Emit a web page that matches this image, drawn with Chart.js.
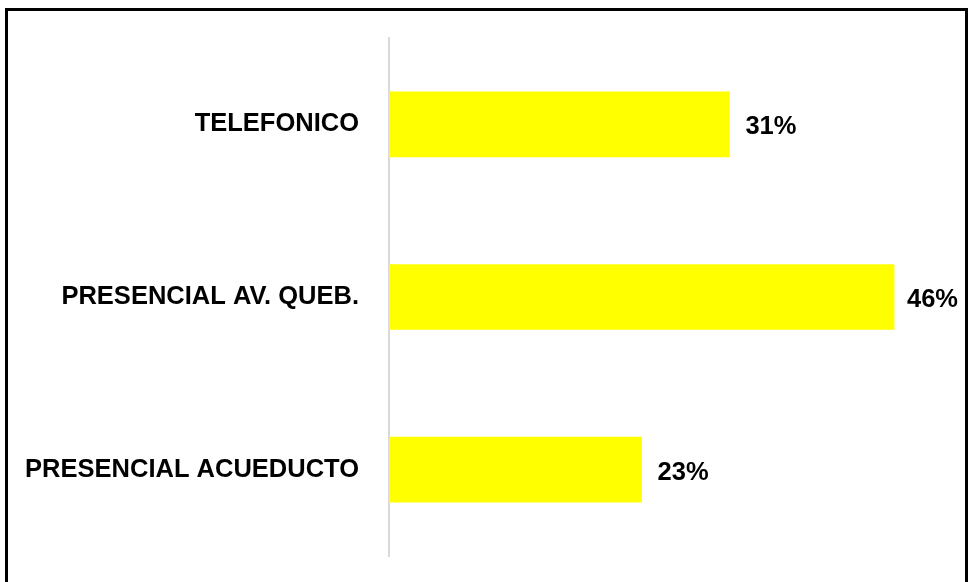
<!DOCTYPE html>
<html>
<head>
<meta charset="utf-8">
<script src="https://cdn.jsdelivr.net/npm/chart.js@4"></script>
<style>
  html, body { margin: 0; padding: 0; background: #fff; }
  #wrap { position: relative; width: 969px; height: 582px; overflow: hidden; }
  #frame { position: absolute; left: 5px; top: 8px; width: 963px; height: 600px;
           border: 3px solid #000; box-sizing: border-box; }
  canvas { position: absolute; left: 0; top: 0; }
</style>
</head>
<body>
<div id="wrap">
  <div id="frame"></div>
  <canvas id="chart" width="969" height="582"></canvas>
</div>
<script>
// Datos del gráfico
const categorias = ['TELEFONICO', 'PRESENCIAL AV. QUEB.', 'PRESENCIAL ACUEDUCTO'];
const porcentajes = [31, 46, 23];

const fuente = '"Liberation Sans", Arial, sans-serif';

// Etiquetas de valor al final de cada barra
const etiquetasValor = {
    id: 'etiquetasValor',
    afterDatasetsDraw(chart) {
        const ctx = chart.ctx;
        const meta = chart.getDatasetMeta(0);
        ctx.save();
        ctx.font = 'bold 25.5px ' + fuente;
        ctx.fillStyle = '#000';
        ctx.textBaseline = 'middle';
        ctx.textAlign = 'left';
        meta.data.forEach((bar, i) => {
            const txt = porcentajes[i] + '%';
            const w = ctx.measureText(txt).width;
            let x = bar.x + 16;
            if (x + w > 958) x = 958 - w;
            ctx.fillText(txt, x, bar.y + 3);
        });
        ctx.restore();
    }
};

const ctx = document.getElementById('chart').getContext('2d');
new Chart(ctx, {
    type: 'bar',
    data: {
        labels: categorias,
        datasets: [{
            data: porcentajes,
            backgroundColor: '#ffff00',
            borderWidth: 0,
            barThickness: 65
        }]
    },
    options: {
        indexAxis: 'y',
        responsive: false,
        animation: false,
        layout: { padding: { left: 0, top: 38, right: 31, bottom: 26 } },
        plugins: { legend: { display: false }, tooltip: { enabled: false } },
        scales: {
            x: {
                display: false,
                min: 0,
                max: 50
            },
            y: {
                afterFit(scale) {
                    scale.width = 389;
                    scale.paddingTop = 0;
                    scale.paddingBottom = 0;
                },
                grid: { display: false, drawTicks: false },
                border: { display: true, color: '#d9d9d9', width: 2 },
                ticks: {
                    color: '#000',
                    padding: 30,
                    font: { family: fuente, size: 25.5, weight: 'bold' }
                }
            }
        }
    },
    plugins: [etiquetasValor]
});
</script>
</body>
</html>
